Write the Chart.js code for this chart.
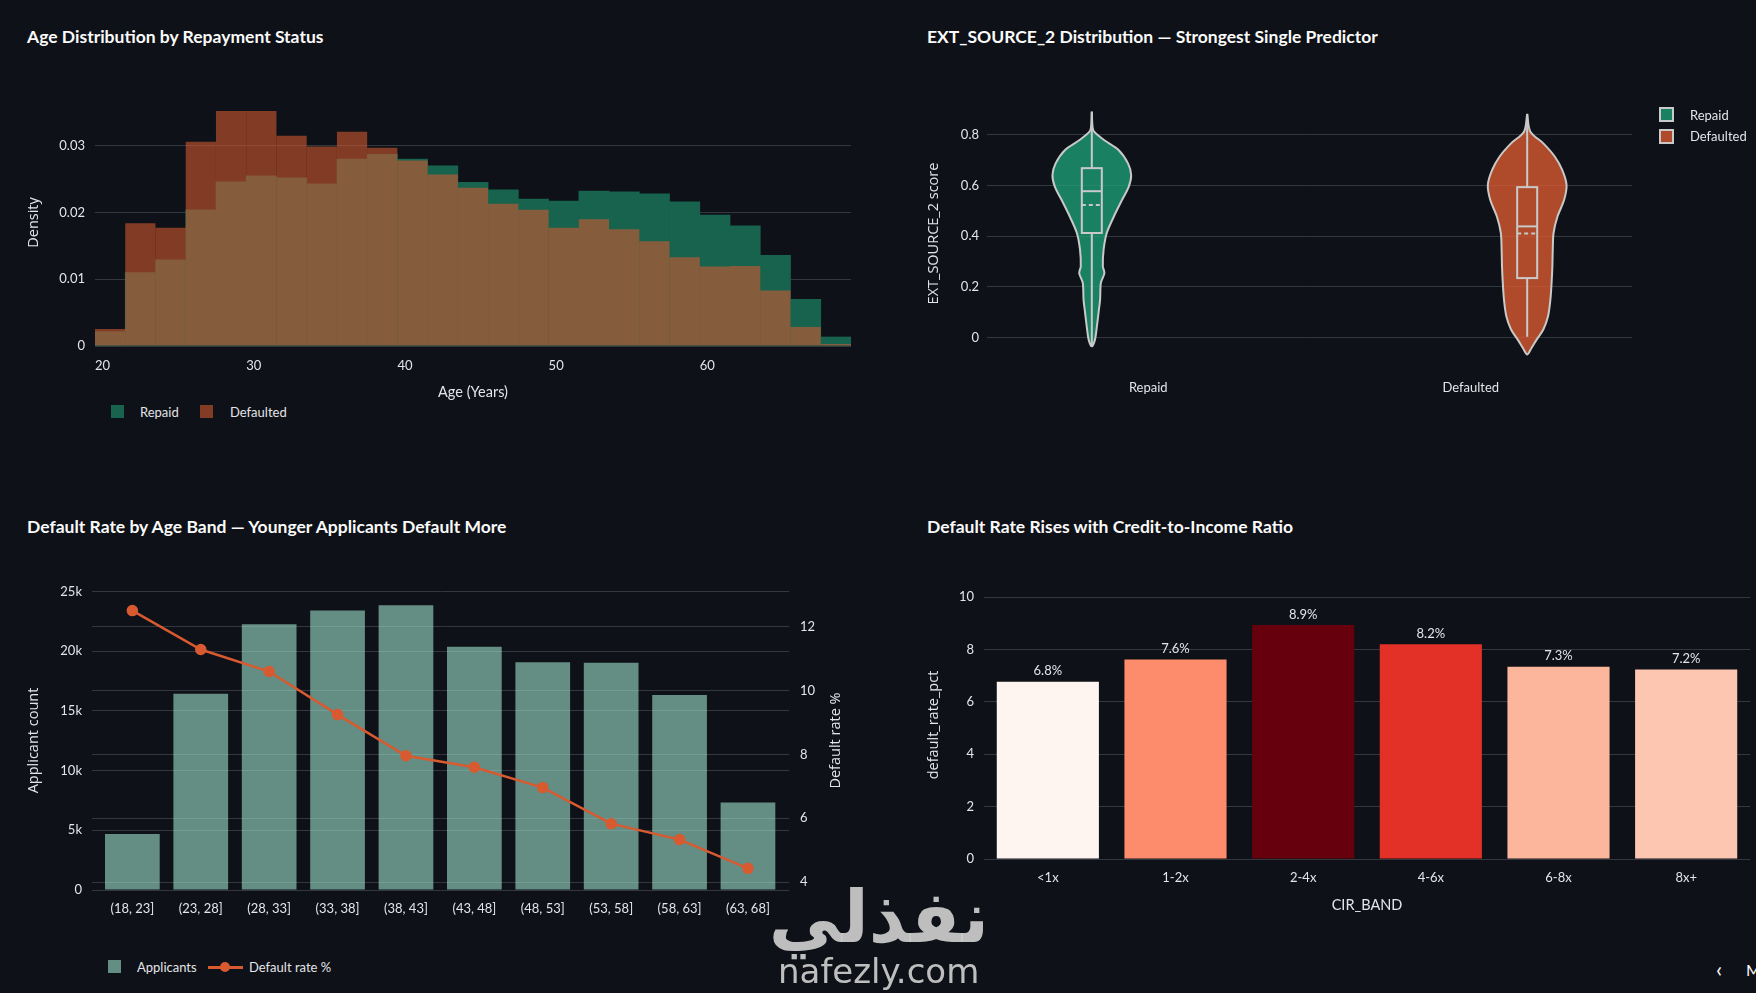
<!DOCTYPE html>
<html>
<head>
<meta charset="utf-8">
<script src="https://cdn.jsdelivr.net/npm/chart.js@4.4.1/dist/chart.umd.min.js"></script>
<style>
  html, body { margin: 0; padding: 0; background: #0e1117; width: 1756px; height: 993px; overflow: hidden; }
  canvas { position: absolute; }
  .title { position: absolute; color: #fafafa; font: bold 17.5px Lato, sans-serif; line-height: 20px; white-space: nowrap; }
  .leg { position: absolute; color: #e3e5e8; font: 13px Lato, sans-serif; line-height: 16px; white-space: nowrap; }
  .sw { position: absolute; box-sizing: border-box; }
  .mark { position: absolute; color: rgba(205, 205, 205, 0.92); white-space: nowrap; }
</style>
</head>
<body>

<div class="title" style="left:27px; top:27px">Age Distribution by Repayment Status</div>
<div class="title" style="left:927px; top:27px">EXT_SOURCE_2 Distribution — Strongest Single Predictor</div>
<div class="title" style="left:27px; top:517px">Default Rate by Age Band — Younger Applicants Default More</div>
<div class="title" style="left:927px; top:517px">Default Rate Rises with Credit-to-Income Ratio</div>

<canvas id="ageHist" width="878" height="321" style="left:0px; top:80px"></canvas>
<canvas id="extViolin" width="878" height="328" style="left:878px; top:80px"></canvas>
<canvas id="ageBand" width="878" height="365" style="left:0px; top:560px"></canvas>
<canvas id="cirBand" width="878" height="354" style="left:878px; top:560px"></canvas>

<!-- legends -->
<div class="sw" id="lg1a" style="left:111px; top:405px; width:13px; height:13px"></div>
<div class="leg" id="lg1at" style="left:140px; top:404px"></div>
<div class="sw" id="lg1b" style="left:200px; top:405px; width:13px; height:13px"></div>
<div class="leg" id="lg1bt" style="left:230px; top:404px"></div>

<div class="sw" id="lg2a" style="left:1659px; top:107px; width:15px; height:15px; border:2px solid #c9c9c9"></div>
<div class="leg" id="lg2at" style="left:1690px; top:107px"></div>
<div class="sw" id="lg2b" style="left:1659px; top:129px; width:15px; height:15px; border:2px solid #c9c9c9"></div>
<div class="leg" id="lg2bt" style="left:1690px; top:128px"></div>

<div class="sw" id="lg3a" style="left:108px; top:960px; width:13px; height:13px"></div>
<div class="leg" id="lg3at" style="left:137px; top:959px"></div>
<div class="sw" id="lg3l" style="left:208px; top:966px; width:35px; height:3px"></div>
<div class="sw" id="lg3m" style="left:220px; top:962px; width:10px; height:10px; border-radius:50%"></div>
<div class="leg" id="lg3bt" style="left:249px; top:959px"></div>

<!-- watermark and page leftovers -->
<div class="mark" style="left:764px; top:872px; width:230px; text-align:center; font: bold 72px 'DejaVu Sans', sans-serif; line-height:90px; direction:rtl">نفذلي</div>
<div class="mark" style="left:778px; top:951px; font: 34px 'DejaVu Sans', sans-serif; line-height:40px">nafezly.com</div>
<div class="leg" style="left:1716px; top:957px; font-size:22px; line-height:24px; color:#fafafa">‹</div>
<div class="leg" style="left:1746px; top:960px; font-size:16px; line-height:20px; color:#fafafa">M</div>

<script>
// ---- data ----
const seriesNames = ['Repaid', 'Defaulted'];

// age histogram, 2-year bins (centres), density
const ageBins = [20.5, 22.5, 24.5, 26.5, 28.5, 30.5, 32.5, 34.5, 36.5, 38.5, 40.5, 42.5, 44.5,
                 46.5, 48.5, 50.5, 52.5, 54.5, 56.5, 58.5, 60.5, 62.5, 64.5, 66.5, 68.5];
const ageRepaid = [0.00215, 0.0110, 0.0129, 0.0204, 0.0246, 0.0255, 0.0252, 0.0243, 0.0280, 0.0287,
                   0.0280, 0.0270, 0.0245, 0.0234, 0.0220, 0.0217, 0.0232, 0.0231, 0.0228, 0.0216,
                   0.0196, 0.0180, 0.0136, 0.0070, 0.00135];
const ageDefaulted = [0.00255, 0.0184, 0.0177, 0.0306, 0.0352, 0.0352, 0.0315, 0.0299, 0.0321, 0.0297,
                      0.0278, 0.0257, 0.0237, 0.0213, 0.0204, 0.0177, 0.0190, 0.0175, 0.0157, 0.0133,
                      0.0119, 0.0120, 0.0083, 0.00285, 0.0003];
const ageTicks = [20, 30, 40, 50, 60];
const densityTicks = [0, 0.01, 0.02, 0.03];

// EXT_SOURCE_2 violins: score levels and relative density width
const repaidScore = [0.892, 0.83, 0.813, 0.78, 0.741, 0.688, 0.642, 0.596, 0.544, 0.478, 0.413,
                     0.347, 0.281, 0.255, 0.216, 0.150, 0.097, 0.045, -0.008, -0.034];
const repaidDensity = [0, 0.02, 0.06, 0.31, 0.68, 0.92, 1.0, 0.94, 0.77, 0.56, 0.38,
                       0.30, 0.28, 0.32, 0.23, 0.21, 0.17, 0.13, 0.08, 0];
const defaultedScore = [0.883, 0.813, 0.767, 0.715, 0.662, 0.603, 0.544, 0.478, 0.413, 0.347,
                        0.281, 0.216, 0.150, 0.084, 0.032, -0.008, -0.041, -0.067];
const defaultedDensity = [0, 0.08, 0.41, 0.70, 0.89, 1.0, 0.94, 0.77, 0.67, 0.65,
                          0.64, 0.62, 0.59, 0.53, 0.41, 0.24, 0.11, 0];
const boxQ1 = [0.413, 0.235];
const boxMedian = [0.578, 0.439];
const boxQ3 = [0.669, 0.594];
const boxMean = [0.524, 0.411];
const whiskerLow = [-0.03, 0.003];
const whiskerHigh = [0.892, 0.883];
const scoreTicks = [0, 0.2, 0.4, 0.6, 0.8];

// age bands
const ageBands = ['(18, 23]', '(23, 28]', '(28, 33]', '(33, 38]', '(38, 43]',
                  '(43, 48]', '(48, 53]', '(53, 58]', '(58, 63]', '(63, 68]'];
const applicants = [4680, 16430, 22250, 23400, 23840, 20360, 19080, 19020, 16320, 7330];
const defaultRate = [12.51, 11.29, 10.60, 9.25, 7.96, 7.60, 6.96, 5.83, 5.33, 4.43];
const countTicks = [0, 5000, 10000, 15000, 20000, 25000];
const rateTicks = [4, 6, 8, 10, 12];
const bandNames = ['Applicants', 'Default rate %'];

// credit-to-income bands
const cirBands = ['<1x', '1-2x', '2-4x', '4-6x', '6-8x', '8x+'];
const cirDefaultRate = [6.77, 7.62, 8.93, 8.20, 7.34, 7.23];
const cirTicks = [0, 2, 4, 6, 8, 10];

// ---- styling ----
const BG = [14, 17, 23];
const REPAID = [29, 158, 117];
const DEFAULTED = [216, 90, 48];
const APPL = [159, 225, 203];
const tickColor = '#e3e5e8';
const gridColor = '#33373f';
const tickFont = {family: 'Lato', size: 13};
const xTitleFont = {family: 'Lato', size: 14.5};
const yTitleFont = {family: 'Open Sans', size: 14.5};
const outlineColor = '#c9c9c9';

const rgba = (c, a) => `rgba(${c[0]},${c[1]},${c[2]},${a})`;
// same colour as c at opacity a over the page background, but opaque
const onBg = (c, a) => `rgb(${c.map((v, k) => Math.round(BG[k] * (1 - a) + v * a)).join(',')})`;
const fixTicks = list => axis => { axis.ticks = list.map(v => ({value: v})) };

const reds = [[255,245,240],[254,224,210],[252,187,161],[252,146,114],[251,106,74],
              [239,59,44],[203,24,29],[165,15,21],[103,0,13]];
function redsAt(t) {
  const p = Math.max(0, Math.min(1, t)) * (reds.length - 1);
  const i = Math.min(Math.floor(p), reds.length - 2), f = p - i;
  const c = reds[i].map((v, k) => Math.round(v + (reds[i + 1][k] - v) * f));
  return `rgb(${c[0]},${c[1]},${c[2]})`;
}

Chart.defaults.animation = false;
Chart.defaults.responsive = false;
Chart.defaults.events = [];
Chart.defaults.plugins.legend.display = false;
Chart.defaults.plugins.tooltip.enabled = false;
Chart.defaults.color = tickColor;

// legends (html)
document.getElementById('lg1a').style.background = onBg(REPAID, 0.58);
document.getElementById('lg1b').style.background = rgba(DEFAULTED, 0.58);
document.getElementById('lg1at').textContent = seriesNames[0];
document.getElementById('lg1bt').textContent = seriesNames[1];
document.getElementById('lg2a').style.background = rgba(REPAID, 0.8);
document.getElementById('lg2b').style.background = rgba(DEFAULTED, 0.8);
document.getElementById('lg2at').textContent = seriesNames[0];
document.getElementById('lg2bt').textContent = seriesNames[1];
document.getElementById('lg3a').style.background = rgba(APPL, 0.6);
document.getElementById('lg3l').style.background = rgba(DEFAULTED, 1);
document.getElementById('lg3m').style.background = rgba(DEFAULTED, 1);
document.getElementById('lg3at').textContent = bandNames[0];
document.getElementById('lg3bt').textContent = bandNames[1];

// ---- 1. age histogram ----
new Chart(document.getElementById('ageHist'), {
  type: 'bar',
  data: {
    datasets: [
      {label: seriesNames[0], data: ageBins.map((b, i) => ({x: b, y: ageRepaid[i]})),
       backgroundColor: onBg(REPAID, 0.58), order: 1},
      {label: seriesNames[1], data: ageBins.map((b, i) => ({x: b, y: ageDefaulted[i]})),
       backgroundColor: rgba(DEFAULTED, 0.58), order: 0, inflateAmount: 0}
    ]
  },
  options: {
    datasets: {bar: {grouped: false, barPercentage: 1, categoryPercentage: 1, borderWidth: 0}},
    layout: {padding: {top: 19, right: 27, left: 0, bottom: 0}},
    scales: {
      x: {
        type: 'linear', min: 19.5, max: 69.5, offset: false,
        afterBuildTicks: fixTicks(ageTicks),
        grid: {display: false, drawTicks: false}, border: {display: false},
        ticks: {font: tickFont, color: tickColor, padding: 12, maxRotation: 0},
        title: {display: true, text: 'Age (Years)', font: xTitleFont, color: tickColor, padding: 0},
        afterFit: a => { a.height = 55 }
      },
      y: {
        min: 0, max: 0.037,
        afterBuildTicks: fixTicks(densityTicks),
        grid: {color: gridColor, drawTicks: false}, border: {display: false},
        ticks: {font: tickFont, color: tickColor, padding: 10, callback: v => v === 0 ? '0' : v.toFixed(2)},
        title: {display: true, text: 'Density', font: yTitleFont, color: tickColor, padding: {top: 25, bottom: 0}},
        afterFit: a => { a.width = 95 }
      }
    }
  }
});

// ---- 2. violins ----
const violinOffset = 0.175;
const violinHalf = 0.122;
const boxHalf = 0.031;
const violinShapes = [[repaidScore, repaidDensity], [defaultedScore, defaultedDensity]];
const centerOf = i => i + (i === 0 ? -violinOffset : violinOffset);

function outline(i) {
  const [sc, dn] = violinShapes[i];
  const c = centerOf(i);
  const right = sc.map((s, k) => ({x: c + dn[k] * violinHalf, y: s}));
  const left = [];
  for (let k = sc.length - 2; k >= 0; k--) left.push({x: c - dn[k] * violinHalf, y: sc[k]});
  return right.concat(left);
}

const violinBoxes = {
  id: 'violinBoxes',
  afterDatasetsDraw(chart) {
    const {ctx, scales: {x, y}} = chart;
    ctx.save();
    ctx.strokeStyle = outlineColor;
    ctx.lineWidth = 2;
    seriesNames.forEach((n, i) => {
      const c = centerOf(i);
      const cx = x.getPixelForValue(c);
      const l = x.getPixelForValue(c - boxHalf), r = x.getPixelForValue(c + boxHalf);
      ctx.setLineDash([]);
      ctx.beginPath();
      ctx.moveTo(cx, y.getPixelForValue(whiskerHigh[i]));
      ctx.lineTo(cx, y.getPixelForValue(boxQ3[i]));
      ctx.moveTo(cx, y.getPixelForValue(boxQ1[i]));
      ctx.lineTo(cx, y.getPixelForValue(whiskerLow[i]));
      ctx.stroke();
      const top = y.getPixelForValue(boxQ3[i]), bot = y.getPixelForValue(boxQ1[i]);
      ctx.strokeRect(l, top, r - l, bot - top);
      ctx.beginPath();
      const my = y.getPixelForValue(boxMedian[i]);
      ctx.moveTo(l, my); ctx.lineTo(r, my);
      ctx.stroke();
      ctx.setLineDash([4, 3]);
      ctx.beginPath();
      const mm = y.getPixelForValue(boxMean[i]);
      ctx.moveTo(l, mm); ctx.lineTo(r, mm);
      ctx.stroke();
    });
    ctx.restore();
  }
};

new Chart(document.getElementById('extViolin'), {
  type: 'scatter',
  data: {
    datasets: seriesNames.map((n, i) => ({
      label: n,
      data: outline(i),
      showLine: true, fill: 'shape', tension: 0.3,
      pointRadius: 0, borderColor: outlineColor, borderWidth: 2,
      backgroundColor: rgba(i === 0 ? REPAID : DEFAULTED, 0.8)
    }))
  },
  options: {
    layout: {padding: {top: 19, right: 124, left: 0, bottom: 0}},
    scales: {
      x: {
        type: 'linear', min: -0.5, max: 1.5, offset: false,
        afterBuildTicks: fixTicks([0, 1]),
        grid: {display: false, drawTicks: false}, border: {display: false},
        ticks: {font: tickFont, color: tickColor, padding: 12, maxRotation: 0,
                callback: (v, idx) => seriesNames[idx]},
        afterFit: a => { a.height = 40 }
      },
      y: {
        min: -0.12, max: 0.942,
        afterBuildTicks: fixTicks(scoreTicks),
        grid: {color: gridColor, drawTicks: false}, border: {display: false},
        ticks: {font: tickFont, color: tickColor, padding: 8, callback: v => v === 0 ? '0' : v.toFixed(1)},
        title: {display: true, text: 'EXT_SOURCE_2 score', font: yTitleFont, color: tickColor, padding: {top: 47, bottom: 0}},
        afterFit: a => { a.width = 109 }
      }
    }
  },
  plugins: [violinBoxes]
});

// ---- 3. age bands ----
const rightTitle = {
  id: 'rightTitle',
  afterDraw(chart, args, opts) {
    const {ctx, chartArea} = chart;
    const s = chart.scales[opts.scale];
    ctx.save();
    ctx.translate(s.right - opts.offset, (chartArea.top + chartArea.bottom) / 2);
    ctx.rotate(-Math.PI / 2);
    ctx.font = `${yTitleFont.size}px "${yTitleFont.family}"`;
    ctx.fillStyle = tickColor;
    ctx.textAlign = 'center';
    ctx.textBaseline = 'middle';
    ctx.fillText(opts.text, 0, 0);
    ctx.restore();
  }
};

new Chart(document.getElementById('ageBand'), {
  data: {
    datasets: [
      {type: 'line', label: bandNames[1], yAxisID: 'y1', order: 0,
       data: defaultRate.map((v, i) => ({x: i, y: v})),
       borderColor: rgba(DEFAULTED, 1), backgroundColor: rgba(DEFAULTED, 1),
       borderWidth: 2.5, pointRadius: 4.5, tension: 0},
      {type: 'bar', label: bandNames[0], yAxisID: 'y', order: 1,
       data: applicants.map((v, i) => ({x: i, y: v})),
       backgroundColor: rgba(APPL, 0.6), barPercentage: 0.8, categoryPercentage: 1}
    ]
  },
  options: {
    layout: {padding: {top: 31, right: 0, left: 0, bottom: 0}},
    scales: {
      x: {
        type: 'linear', min: -0.59, max: 9.6, offset: false,
        afterBuildTicks: fixTicks(ageBands.map((b, i) => i)),
        grid: {display: false, drawTicks: false}, border: {display: false},
        ticks: {font: tickFont, color: tickColor, padding: 11, maxRotation: 0, autoSkip: false,
                callback: (v, idx) => ageBands[idx]},
        afterFit: a => { a.height = 35 }
      },
      y: {
        position: 'left', min: 0, max: 25036,
        afterBuildTicks: fixTicks(countTicks),
        grid: {color: gridColor, drawTicks: false}, border: {display: false},
        ticks: {font: tickFont, color: tickColor, padding: 10, callback: v => v === 0 ? '0' : (v / 1000) + 'k'},
        title: {display: true, text: 'Applicant count', font: yTitleFont, color: tickColor, padding: {top: 25, bottom: 0}},
        afterFit: a => { a.width = 92 }
      },
      y1: {
        position: 'right', min: 3.75, max: 13.125,
        afterBuildTicks: fixTicks(rateTicks),
        grid: {color: gridColor, drawTicks: false}, border: {display: false},
        ticks: {font: tickFont, color: tickColor, padding: 11},
        afterFit: a => { a.width = 89 }
      }
    },
    plugins: {rightTitle: {scale: 'y1', offset: 42, text: 'Default rate %'}}
  },
  plugins: [rightTitle]
});

// ---- 4. credit-to-income ----
const barValueLabels = {
  id: 'barValueLabels',
  afterDatasetsDraw(chart) {
    const {ctx} = chart;
    const meta = chart.getDatasetMeta(0);
    ctx.save();
    ctx.font = `${tickFont.size}px "${tickFont.family}"`;
    ctx.fillStyle = tickColor;
    ctx.textAlign = 'center';
    ctx.textBaseline = 'bottom';
    meta.data.forEach((bar, i) => {
      ctx.fillText(cirDefaultRate[i].toFixed(1) + '%', bar.x, bar.y - 4);
    });
    ctx.restore();
  }
};

const cirMin = Math.min(...cirDefaultRate), cirMax = Math.max(...cirDefaultRate);
new Chart(document.getElementById('cirBand'), {
  type: 'bar',
  data: {
    labels: cirBands,
    datasets: [{
      label: 'default_rate_pct',
      data: cirDefaultRate,
      backgroundColor: cirDefaultRate.map(v => redsAt((v - cirMin) / (cirMax - cirMin))),
      barPercentage: 0.8, categoryPercentage: 1, borderWidth: 0
    }]
  },
  options: {
    layout: {padding: {top: 31, right: 6, left: 0, bottom: 0}},
    scales: {
      x: {
        grid: {display: false, drawTicks: false}, border: {display: false},
        ticks: {font: tickFont, color: tickColor, padding: 11, maxRotation: 0},
        title: {display: true, text: 'CIR_BAND', font: xTitleFont, color: tickColor, padding: 0},
        afterFit: a => { a.height = 55 }
      },
      y: {
        min: 0, max: 10.23,
        afterBuildTicks: fixTicks(cirTicks),
        grid: {color: gridColor, drawTicks: false}, border: {display: false},
        ticks: {font: tickFont, color: tickColor, padding: 10},
        title: {display: true, text: 'default_rate_pct', font: yTitleFont, color: tickColor, padding: {top: 47, bottom: 0}},
        afterFit: a => { a.width = 106 }
      }
    }
  },
  plugins: [barValueLabels]
});
</script>
</body>
</html>
